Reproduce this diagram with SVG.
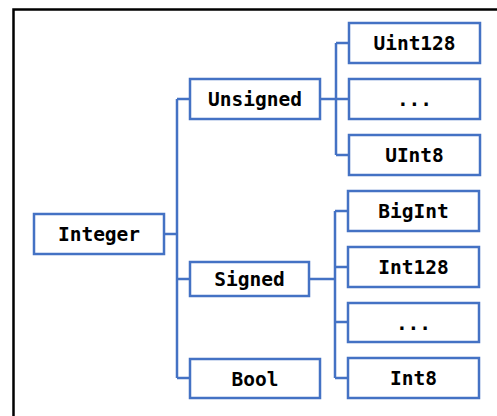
<svg xmlns="http://www.w3.org/2000/svg" width="497" height="416" viewBox="0 0 497 416">
  <style>
    .box { fill: #ffffff; stroke: #4472c4; stroke-width: 2.5; }
    .lbl { font-family: "DejaVu Sans Mono", "Liberation Mono", monospace; font-weight: bold; font-size: 19.5px; fill: #000000; text-anchor: middle; }
    .wire { fill: none; stroke: #4472c4; stroke-width: 2.5; }
  </style>
  <rect width="497" height="416" fill="#ffffff"/>
  <!-- page frame: only the top and left edges are visible -->
  <path d="M13.5,420 V9.5 H500" fill="none" stroke="#000000" stroke-width="2.5"/>

  <g id="connectors">
    <path class="wire" d="M164,234 H177 M177,99 V378 M177,99 H190 M177,279 H190 M177,378 H190"/>
    <path class="wire" d="M320,99 H336 M336,43 V155 M336,43 H349 M336,99 H349 M336,155 H349"/>
    <path class="wire" d="M309,279 H335 M335,211 V378 M335,211 H348 M335,267 H348 M335,322 H348 M335,378 H348"/>
  </g>

  <g id="integer"><rect class="box" x="34" y="214" width="130" height="40"/><text class="lbl" x="99" y="241">Integer</text></g>
  <g id="unsigned"><rect class="box" x="190" y="79" width="130" height="40"/><text class="lbl" x="255" y="106">Unsigned</text></g>
  <g id="signed"><rect class="box" x="190" y="262" width="119" height="34"/><text class="lbl" x="249.5" y="286">Signed</text></g>
  <g id="bool"><rect class="box" x="190" y="359" width="130" height="39"/><text class="lbl" x="255" y="385.5">Bool</text></g>

  <g id="uint128"><rect class="box" x="349" y="23" width="131" height="40"/><text class="lbl" x="414.5" y="50">Uint128</text></g>
  <g id="unsigned-more"><rect class="box" x="349" y="79" width="131" height="40"/><text class="lbl" x="414.5" y="106">...</text></g>
  <g id="uint8"><rect class="box" x="349" y="135" width="131" height="40"/><text class="lbl" x="414.5" y="162">UInt8</text></g>

  <g id="bigint"><rect class="box" x="348" y="191" width="131" height="40"/><text class="lbl" x="413.5" y="218">BigInt</text></g>
  <g id="int128"><rect class="box" x="348" y="247" width="131" height="40"/><text class="lbl" x="413.5" y="274">Int128</text></g>
  <g id="signed-more"><rect class="box" x="348" y="303" width="131" height="39"/><text class="lbl" x="413.5" y="329.5">...</text></g>
  <g id="int8"><rect class="box" x="348" y="358" width="131" height="40"/><text class="lbl" x="413.5" y="385">Int8</text></g>
</svg>
